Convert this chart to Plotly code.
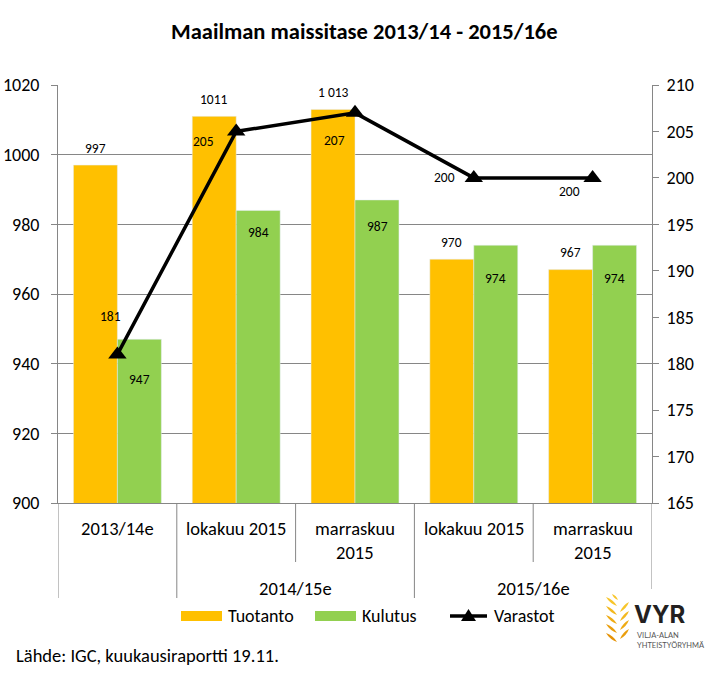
import plotly.graph_objects as go

# ---- data ----
categories = ["2013/14e", "lokakuu 2015", "marraskuu<br>2015", "lokakuu 2015", "marraskuu<br>2015"]
groups = ["", "2014/15e", "2014/15e", "2015/16e", "2015/16e"]
group_labels = ["2014/15e", "2015/16e"]
tuotanto = [997, 1011, 1013, 970, 967]
tuotanto_text = ["997", "1011", "1 013", "970", "967"]
kulutus = [947, 984, 987, 974, 974]
varastot = [181, 205, 207, 200, 200]
series_names = ["Tuotanto", "Kulutus", "Varastot"]

# ---- style ----
FONT = "Calibri, Carlito, Lato, sans-serif"
ORANGE = "#FFC000"
GREEN = "#92D050"
GRID = "#868686"
L, R, T, B = 58, 75, 85, 172
W, H = 727, 675
PW, PH = W - L - R, H - T - B

def PX(px):
    return (px - L) / PW

def PY(py):
    return (H - B - py) / PH

x = list(range(len(categories)))

fig = go.Figure()
fig.add_trace(go.Bar(x=x, y=tuotanto, name=series_names[0], marker_color=ORANGE, yaxis="y"))
fig.add_trace(go.Bar(x=x, y=kulutus, name=series_names[1], marker_color=GREEN, yaxis="y"))
fig.add_trace(go.Scatter(x=x, y=varastot, name=series_names[2], yaxis="y2", mode="lines+markers",
                         line=dict(color="black", width=3.5),
                         marker=dict(symbol="triangle-up", size=16, color="black")))

LBL = 13.5
CAT = 18.5
ann = []
# bar labels
green_shift = [-40, -22, -27, -33, -33]
for i in x:
    ann.append(dict(x=i, y=tuotanto[i], xref="x", yref="y", text=tuotanto_text[i], showarrow=False,
                    yanchor="middle", xshift=-22, yshift=17, font=dict(family=FONT, size=LBL, color="black")))
    ann.append(dict(x=i, y=kulutus[i], xref="x", yref="y", text=str(kulutus[i]), showarrow=False,
                    yanchor="middle", xshift=22, yshift=green_shift[i], font=dict(family=FONT, size=LBL, color="black")))
# line labels
line_xs = [-7, -33, -21, -29, -23]
line_ys = [38, -10, -28, 0, -14]
for i in x:
    ann.append(dict(x=i, y=varastot[i], xref="x", yref="y2", text=str(varastot[i]), showarrow=False,
                    yanchor="middle", xshift=line_xs[i], yshift=line_ys[i],
                    font=dict(family=FONT, size=LBL, color="black")))
# category labels
for i, c in enumerate(categories):
    for j, part in enumerate(c.split("<br>")):
        ann.append(dict(x=i, y=0, xref="x", yref="paper", text=part, showarrow=False,
                        yanchor="middle", yshift=-25 - 24 * j,
                        font=dict(family=FONT, size=CAT, color="black")))
# group labels
for g in group_labels:
    idx = [i for i, gg in enumerate(groups) if gg == g]
    ann.append(dict(x=sum(idx) / len(idx), y=0, xref="x", yref="paper", text=g, showarrow=False,
                    yanchor="middle", yshift=-85, font=dict(family=FONT, size=CAT, color="black")))
# title & source
ann.append(dict(x=PX(364), y=PY(32), xref="paper", yref="paper", showarrow=False, yanchor="middle",
                text="<b>Maailman maissitase 2013/14 - 2015/16e</b>",
                font=dict(family=FONT, size=22.5, color="black")))
ann.append(dict(x=PX(14), y=PY(655), xref="paper", yref="paper", showarrow=False, xanchor="left",
                yanchor="middle", text="Lähde: IGC, kuukausiraportti 19.11.",
                font=dict(family=FONT, size=18.5, color="black")))
# custom legend (Excel-style wide swatches)
LEG_Y = 616
leg_text_x = [226, 360, 492]
for name, tx in zip(series_names, leg_text_x):
    ann.append(dict(x=PX(tx), y=PY(LEG_Y), xref="paper", yref="paper", showarrow=False,
                    xanchor="left", yanchor="middle", text=name,
                    font=dict(family=FONT, size=18, color="black")))
# logo text
ann.append(dict(x=PX(632), y=PY(614), xref="paper", yref="paper", showarrow=False, xanchor="left",
                yanchor="middle", text="<b>VYR</b>",
                font=dict(family="Inter, Lato, sans-serif", size=24, color="#231F20")))
ann.append(dict(x=PX(635), y=PY(635), xref="paper", yref="paper", showarrow=False, xanchor="left",
                yanchor="middle", text="VILJA-ALAN", font=dict(family="Lato, sans-serif", size=7.5, color="#555")))
ann.append(dict(x=PX(635), y=PY(645), xref="paper", yref="paper", showarrow=False, xanchor="left",
                yanchor="middle", text="YHTEISTYÖRYHMÄ", font=dict(family="Lato, sans-serif", size=7.5, color="#555")))

shapes = []
# category divider lines below the axis
n = len(categories)
bounds = [i - 0.5 for i in range(n + 1)]
for k, bx in enumerate(bounds):
    if k == 0:
        y1 = -95 / PH
    elif k == n:
        y1 = -86 / PH
    elif groups[k] != "" and groups[k] == groups[k - 1]:
        y1 = -59 / PH
    else:
        y1 = -95 / PH
    shapes.append(dict(type="line", xref="x", yref="paper", x0=bx, x1=bx, y0=0, y1=y1,
                       line=dict(color=GRID, width=1)))

# legend swatches
for x0, col in [(181, ORANGE), (315, GREEN)]:
    shapes.append(dict(type="rect", xref="paper", yref="paper", x0=PX(x0), x1=PX(x0 + 41),
                       y0=PY(LEG_Y + 5), y1=PY(LEG_Y - 5), fillcolor=col, line=dict(width=0)))
shapes.append(dict(type="line", xref="paper", yref="paper", x0=PX(450), x1=PX(487),
                   y0=PY(LEG_Y), y1=PY(LEG_Y), line=dict(color="black", width=3.5)))
shapes.append(dict(type="path", xref="paper", yref="paper", fillcolor="black", line=dict(width=0),
                   path="M {},{} L {},{} L {},{} Z".format(PX(461), PY(LEG_Y + 5), PX(476), PY(LEG_Y + 5),
                                                          PX(468.5), PY(LEG_Y - 7))))

# logo leaves
def leaf(bx, by, tx, ty, w, color):
    mx, my = (bx + tx) / 2, (by + ty) / 2
    dx, dy = tx - bx, ty - by
    ln = (dx * dx + dy * dy) ** 0.5
    nx, ny = -dy / ln * w, dx / ln * w
    p = "M {},{} Q {},{} {},{} Q {},{} {},{} Z".format(
        PX(bx), PY(by), PX(mx + nx), PY(my + ny), PX(tx), PY(ty),
        PX(mx - nx), PY(my - ny), PX(bx), PY(by))
    return dict(type="path", xref="paper", yref="paper", path=p, fillcolor=color,
                line=dict(width=0))

leaf_cols = ["#F7C52A", "#F3B81E", "#EFAB14", "#EA9E0C", "#E59206"]
for k, by in enumerate([606, 615, 624, 633, 642]):
    shapes.append(leaf(617, by, 606, by - 9, 2.6, leaf_cols[k]))
for k, by in enumerate([612, 621, 630, 639]):
    shapes.append(leaf(620, by, 629, by - 10, 2.6, leaf_cols[k]))
shapes.append(leaf(618, 600, 612, 594, 2.0, leaf_cols[0]))

fig.update_layout(
    width=W, height=H,
    margin=dict(l=L, r=R, t=T, b=B, autoexpand=False),
    paper_bgcolor="white", plot_bgcolor="white",
    barmode="group", bargap=0.26, bargroupgap=0,
    font=dict(family=FONT, size=16, color="black"),
    showlegend=False,
    xaxis=dict(range=[-0.5, n - 0.5], showticklabels=False, showgrid=False, zeroline=False,
               showline=True, linecolor=GRID, linewidth=1, ticks="", automargin=False),
    yaxis=dict(range=[900, 1020], dtick=20, showgrid=True, gridcolor=GRID, gridwidth=1,
               showline=True, linecolor=GRID, linewidth=1, ticks="outside", ticklen=6,
               tickcolor=GRID, zeroline=False, ticklabelstandoff=8, automargin=False,
               tickfont=dict(family=FONT, size=18)),
    yaxis2=dict(range=[165, 210], dtick=5, overlaying="y", side="right", showgrid=False,
                showline=True, linecolor=GRID, linewidth=1, ticks="outside", ticklen=6,
                tickcolor=GRID, zeroline=False, ticklabelstandoff=4, automargin=False,
                tickfont=dict(family=FONT, size=18)),
    annotations=ann,
    shapes=shapes,
)

fig.write_html("out.html")
